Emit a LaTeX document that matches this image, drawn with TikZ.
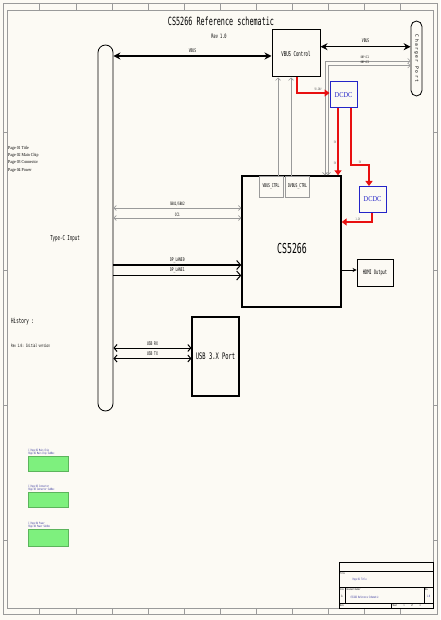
\documentclass[tikz,border=0pt]{standalone}
\usepackage{fontspec}
\setmainfont{DejaVu Sans Mono}[FakeStretch=0.6]
\newfontfamily\widefont{DejaVu Sans Mono}[LetterSpace=30]
\newfontfamily\dcfont{Liberation Serif}[FakeStretch=0.85]
\usetikzlibrary{arrows.meta}
\newcommand\myfs[1]{\fontsize{#1}{#1}\selectfont}
\definecolor{cream}{HTML}{FCFAF4}
\definecolor{gline}{HTML}{9A9A9A}
\definecolor{dcblue}{HTML}{2424C8}
\definecolor{tblue}{HTML}{30309A}
\definecolor{gfill}{HTML}{7EF07E}
\definecolor{gdraw}{HTML}{5CB45C}
\definecolor{sred}{HTML}{E81010}
\tikzset{
  box/.style={draw=black, line width=1pt, fill=none, inner sep=1pt},
  gbox/.style={draw=gline, line width=0.6pt, inner sep=0.5pt, font=\myfs{5.2}},
  dcdc/.style={draw=dcblue, line width=1pt, text=dcblue, font={\dcfont\myfs{7.5}}, minimum width=27pt, minimum height=26pt, inner sep=0pt},
  lbl/.style={font=\myfs{5}, inner sep=0.6pt},
  tiny/.style={font=\myfs{3.2}, inner sep=0.4pt},
  bigarr/.style={line width=1.6pt, {Stealth[length=7pt,width=7pt]}-{Stealth[length=7pt,width=7pt]}},
  dparr/.style={line width=1.2pt, -{Straight Barb[length=4pt,width=9pt,line width=1pt]}},
  usbarr/.style={line width=1pt, {Straight Barb[length=3pt,width=7pt]}-{Straight Barb[length=3pt,width=7pt]}},
  garr/.style={draw=gline, line width=0.6pt, {Straight Barb[length=2.5pt,width=5pt]}-{Straight Barb[length=2.5pt,width=5pt]}},
  gup/.style={draw=gline, line width=0.6pt, -{Straight Barb[length=2.5pt,width=5pt]}},
  redarr/.style={draw=sred, line width=1.6pt, -{Triangle[length=5pt,width=7pt]}},
  redlbl/.style={font=\myfs{3.2}, inner sep=0.4pt, text=black!70},
  frame/.style={draw=gline, line width=0.6pt},
  tb/.style={draw=black, line width=0.5pt},
  tbk/.style={draw=black, line width=0.9pt},
  tbt/.style={font=\myfs{2.6}, inner sep=0.3pt},
  greenbox/.style={draw=gdraw, fill=gfill, line width=0.6pt, minimum width=40pt, inner sep=0pt},
  gtxt/.style={font=\myfs{3}, text=tblue, align=left, inner sep=0.5pt}
}
\begin{document}
\begin{tikzpicture}[x=1pt,y=-1pt]
\useasboundingbox (0,0) rectangle (440,620);
\fill[cream] (0,0) rectangle (440,620);
% frame
\draw[frame] (3,3) rectangle (437,614);
\draw[frame] (7,10) rectangle (433,608);
\foreach \xx in {39,76,112,148,184,220,256,292,328,364,400}{
  \draw[frame] (\xx,3) -- (\xx,10);
  \draw[frame] (\xx,608) -- (\xx,614);
}
\foreach \yy in {132,270,405,540}{
  \draw[frame] (3,\yy) -- (7,\yy);
  \draw[frame] (433,\yy) -- (437,\yy);
}
% title
\node[font=\myfs{11.3}, inner sep=0pt] (title) at (221,21) {CS5266 Reference schematic};
\node[font=\myfs{6}, inner sep=0pt] (rev) at (219,36) {Rev 1.0};
% connectors (shapes)
\node[draw, line width=0.8pt, rounded corners=7.5pt, minimum width=15pt, minimum height=366pt, inner sep=0pt] (tc) at (105.5,228) {};
\node[font=\myfs{6.8}, inner sep=0pt] (tcl) at (65,239) {Type-C Input};
\node[draw, line width=0.8pt, rounded corners=5.5pt, minimum width=11pt, minimum height=75pt, inner sep=0pt] (cp) at (416.5,58.5) {};
\node[rotate=-90, font={\widefont\myfs{4.6}}, inner sep=0pt] (cpl) at (cp.center) {Charger Port};
% main boxes
\node[box, minimum width=48pt, minimum height=47pt, font=\myfs{6.7}] (vbc) at (296,53.5) {VBUS Control};
\node[box, line width=1.4pt, minimum width=99pt, minimum height=131pt] (cs) at (291.5,241.5) {};
\node[font=\myfs{13.7}, inner sep=0pt] (cst) at (292,249) {CS5266};
\node[gbox, minimum width=24pt, minimum height=21pt] (vc1) at (271,186.5) {VBUS\_CTRL};
\node[gbox, minimum width=24pt, minimum height=21pt] (vc2) at (297.5,186.5) {DVBUS\_CTRL};
\node[dcdc] (dc1) at (343.5,95) {DCDC};
\node[dcdc] (dc2) at (372.5,199.5) {DCDC};
\node[box, line width=0.9pt, minimum width=36pt, minimum height=27pt, font=\myfs{6.1}] (hdmi) at (375,272.5) {HDMI Output};
\node[box, line width=1.1pt, minimum width=47pt, minimum height=79pt, font=\myfs{9}] (usb) at (215.5,356.5) {USB 3.X Port};
% VBUS
\draw[bigarr] (tc.east |- 0,56) -- (vbc.west |- 0,56) node[lbl, midway, above=2pt] {VBUS};
\draw[bigarr] (vbc.east |- 0,46.7) -- (cp.west |- 0,46.7) node[lbl, midway, above=3pt] {VBUS};
% CC to charger port
\draw[garr] (cs.north -| 325,0) |- (cp.west |- 0,61);
\draw[garr] (cs.north -| 328,0) |- (cp.west |- 0,65.5);
\node[tiny] (cc1l) at (365,57.8) {DBP CC1};
\node[tiny] (cc2l) at (365,62.8) {DBP CC2};
% VBUS_CTRL lines
\draw[gup] (vc1.north -| 278,0) -- (vbc.south -| 278,0);
\draw[gup] (vc2.north -| 291,0) -- (vbc.south -| 291,0);
% red power lines
\draw[redarr] (vbc.south -| 297,0) |- (dc1.west |- 0,93);
\node[redlbl] (r1) at (318,89.5) {5V-20V};
\draw[redarr] (dc1.south -| 338,0) -- (cs.north -| 338,0);
\node[redlbl] (r2) at (335,142) {5V};
\node[redlbl] (r3) at (335,163) {5V};
\draw[redarr] (dc1.south -| 351,0) -- (351,165) -- (369,165) -- (dc2.north -| 369,0);
\node[redlbl] (r4) at (360,162) {5V};
\draw[redarr] (dc2.south -| 372,0) |- (cs.east |- 0,222);
\node[redlbl] (r5) at (358,219.5) {1.2V};
% left side signals
\draw[garr] (tc.east |- 0,208) -- (cs.west |- 0,208) node[lbl, midway, above=1pt, font=\myfs{4.5}] {SBU1/SBU2};
\draw[garr] (tc.east |- 0,218) -- (cs.west |- 0,218) node[lbl, midway, above=1pt, font=\myfs{4.5}] {CC1};
\draw[dparr] (tc.east |- 0,265) -- (cs.west |- 0,265) node[lbl, midway, above=1.5pt] {DP\_LANE0};
\draw[dparr] (tc.east |- 0,275.5) -- (cs.west |- 0,275.5) node[lbl, midway, above=1.5pt] {DP\_LANE1};
\draw[line width=1pt, -{Stealth[length=4pt,width=4pt]}] (cs.east |- 0,270) -- (hdmi.west |- 0,270);
\draw[usbarr] (tc.east |- 0,348) -- (usb.west |- 0,348) node[lbl, midway, above=1.5pt] {USB RX};
\draw[usbarr] (tc.east |- 0,358.5) -- (usb.west |- 0,358.5) node[lbl, midway, above=1.5pt] {USB TX};
% notes
\node[font={\dcfont\fontsize{4.6}{7.3}\selectfont}, align=left, anchor=north west, inner sep=0pt] (pages) at (8,146) {Page 01 Title\\Page 02 Main Chip\\Page 03 Connector\\Page 04 Power};
\node[font=\myfs{7}, anchor=west, inner sep=0pt] (hist) at (11,322) {History :};
\node[font=\myfs{4.4}, anchor=west, inner sep=0pt] (histr) at (11,346) {Rev 1.0: Initial version};
% green sub-boxes
\node[greenbox, minimum height=15pt] (g1) at (48,463.5) {};
\node[greenbox, minimum height=15pt] (g2) at (48,499.5) {};
\node[greenbox, minimum height=17pt] (g3) at (48,537.5) {};
\node[gtxt, anchor=south west] (g1t) at (g1.north west) {C\_Page 02 Main Chip\\Page 02 Main Chip SubBox};
\node[gtxt, anchor=south west] (g2t) at (g2.north west) {C\_Page 03 Connector\\Page 03 Connector SubBox};
\node[gtxt, anchor=south west] (g3t) at (g3.north west) {C\_Page 04 Power\\Page 04 Power SubBox};
% title block
\draw[tb] (339,562) rectangle (433,608);
\draw[tbk] (339,571) -- (433,571);
\draw[tbk] (339,587) -- (433,587);
\draw[tbk] (339,603) -- (433,603);
\draw[tb] (345,587) -- (345,603);
\draw[tb] (424,587) -- (424,603);
\draw[tb] (391,603) -- (391,608);
\node[tbt, anchor=north west] (tbt1) at (339.5,571.6) {Title};
\node[tbt, anchor=west, text=tblue, font=\myfs{3}] (tbt2) at (352,580) {Page 01 Title};
\node[tbt, anchor=north west] (tbt3) at (339.5,587.6) {Size};
\node[tbt, font=\myfs{3.2}] (tbt4) at (342,596) {A};
\node[tbt, anchor=north west] (tbt5) at (346,587.6) {Document Number};
\node[tbt, anchor=west, text=tblue, font=\myfs{3}] (tbt6) at (350,597) {CS5266 Reference Schematic};
\node[tbt, anchor=north west] (tbt7) at (424.5,587.6) {Rev};
\node[tbt, text=tblue, font=\myfs{3}] (tbt8) at (428.5,596) {1.0};
\node[tbt, anchor=west] (tbt9) at (339.5,605.5) {Date};
\node[tbt, anchor=west] (tbt10) at (392,605.5) {Sheet};
\node[tbt] (tbt11) at (404,605.5) {1};
\node[tbt] (tbt12) at (412,605.5) {of};
\node[tbt] (tbt13) at (420,605.5) {4};
\end{tikzpicture}
\end{document}
